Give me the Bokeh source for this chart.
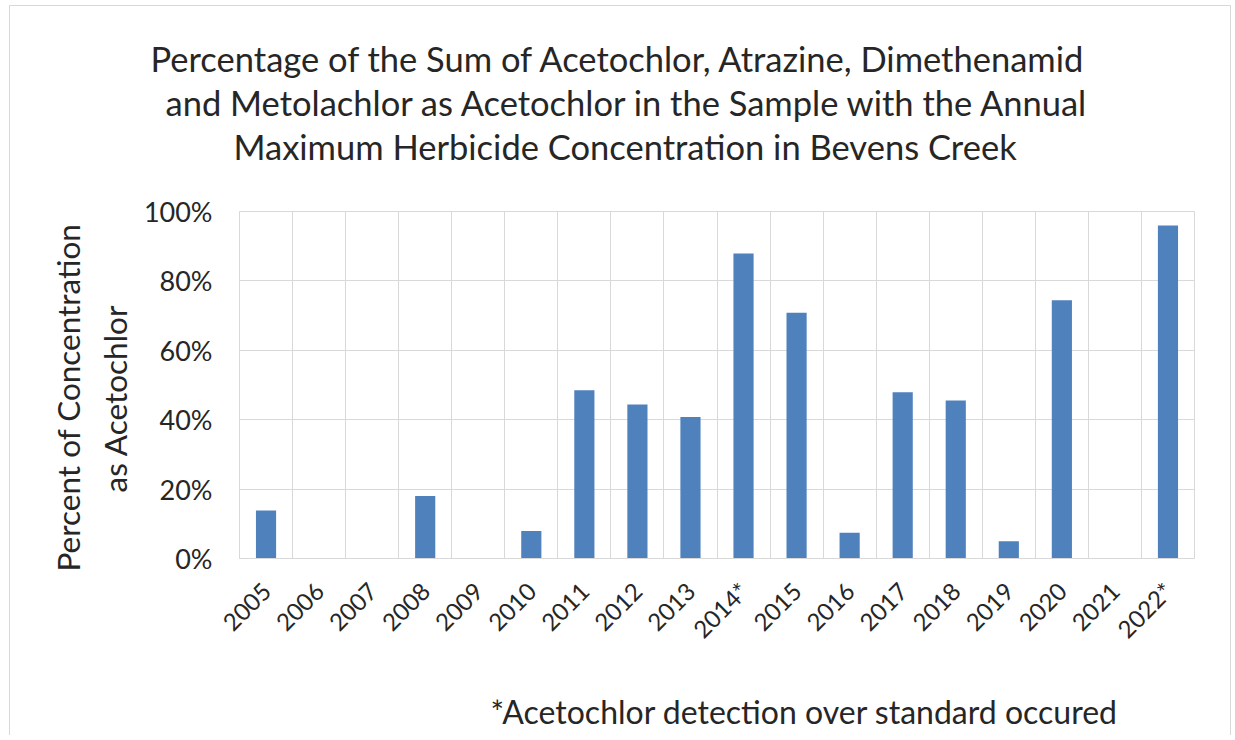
import numpy as np
from math import pi
from bokeh.plotting import figure
from bokeh.models import FactorRange, Range1d, FixedTicker, NumeralTickFormatter, Title
from bokeh.embed import file_html
from bokeh.resources import INLINE

# ---- data ----
years = ["2005", "2006", "2007", "2008", "2009", "2010", "2011", "2012", "2013",
         "2014*", "2015", "2016", "2017", "2018", "2019", "2020", "2021", "2022*"]
share_acetochlor = [0.138, 0.0, 0.0, 0.180, 0.0, 0.079, 0.485, 0.444, 0.408,
                    0.879, 0.708, 0.074, 0.479, 0.455, 0.050, 0.744, 0.0, 0.960]
y_ticks = [0.0, 0.2, 0.4, 0.6, 0.8, 1.0]
title_lines = ["Percentage of the Sum of Acetochlor, Atrazine, Dimethenamid",
               "and Metolachlor as Acetochlor in the Sample with the Annual",
               "Maximum  Herbicide  Concentration in Bevens Creek"]
ylabel_lines = ["Percent of Concentration", "as Acetochlor"]
footnote = "*Acetochlor detection over standard occured"

FONT = "Lato"
TXT = "#262626"
GRID = "#d9d9d9"

# canvas origin on the page
OX, OY = 10, 7
W, H = 1222, 730
FL, FT, FW, FH = 239, 212, 955, 347   # frame box on the page

p = figure(width=W, height=H, x_range=FactorRange(*years), y_range=Range1d(0, 1),
           output_backend="svg", toolbar_location=None, title_location=None,
           min_border_left=FL - OX, min_border_right=W - (FL - OX) - FW,
           min_border_top=FT - OY, min_border_bottom=H - (FT - OY) - FH)
p.styles = {"border-top": "1px solid #d9d9d9", "border-left": "1px solid #d9d9d9",
            "border-right": "1px solid #d9d9d9", "margin": "5px 0px 0px 9px"}

p.vbar(x=years, top=share_acetochlor, width=0.38, color="#4F81BD", line_color=None)

p.outline_line_color = GRID
p.background_fill_color = "white"
p.border_fill_color = "white"

# y axis
p.yaxis.ticker = FixedTicker(ticks=y_ticks)
p.yaxis.formatter = NumeralTickFormatter(format="0%")
p.yaxis.axis_line_color = None
p.yaxis.major_tick_line_color = None
p.yaxis.minor_tick_line_color = None
p.yaxis.major_label_standoff = 21
p.yaxis.major_label_text_font = FONT
p.yaxis.major_label_text_font_size = "27px"
p.yaxis.major_label_text_color = TXT

# x axis
p.xaxis.axis_line_color = GRID
p.xaxis.major_tick_line_color = None
p.xaxis.major_label_orientation = pi / 4
p.xaxis.major_label_standoff = 22
p.xaxis.major_label_text_font = FONT
p.xaxis.major_label_text_font_size = "24px"
p.xaxis.major_label_text_color = TXT

# grids
p.ygrid.ticker = FixedTicker(ticks=y_ticks)
p.ygrid.grid_line_color = GRID
p.xgrid.ticker = FixedTicker(ticks=list(range(len(years) + 1)))
p.xgrid.grid_line_color = GRID


def title(text, size, align="center", offset=0, standoff=10):
    return Title(text=text, align=align, offset=offset, standoff=standoff,
                 text_font=FONT, text_font_size=size, text_font_style="normal",
                 text_color=TXT)

# spacer between frame and chart title
p.add_layout(title(" ", "10px", standoff=30), "above")
# chart title: added nearest-first
title_starts = [150, 165, 233]
for i in [2, 1, 0]:
    p.add_layout(title(title_lines[i], "34.5px", align="left",
                       offset=title_starts[i] - FL, standoff=1), "above")

# y axis title (two lines, nearest first), positioned by their lower ends
p.add_layout(title(ylabel_lines[1], "31.5px", align="left", offset=FT + FH - 493,
                   standoff=14), "left")
p.add_layout(title(ylabel_lines[0], "31.5px", align="left", offset=FT + FH - 572,
                   standoff=0), "left")

# spacer between axis labels and footnote, then the footnote
p.add_layout(title(" ", "10px", standoff=19), "below")
p.add_layout(title(footnote, "32px", align="left", offset=490 - FL, standoff=0), "below")

open("out.html", "w").write(file_html(p, INLINE))
